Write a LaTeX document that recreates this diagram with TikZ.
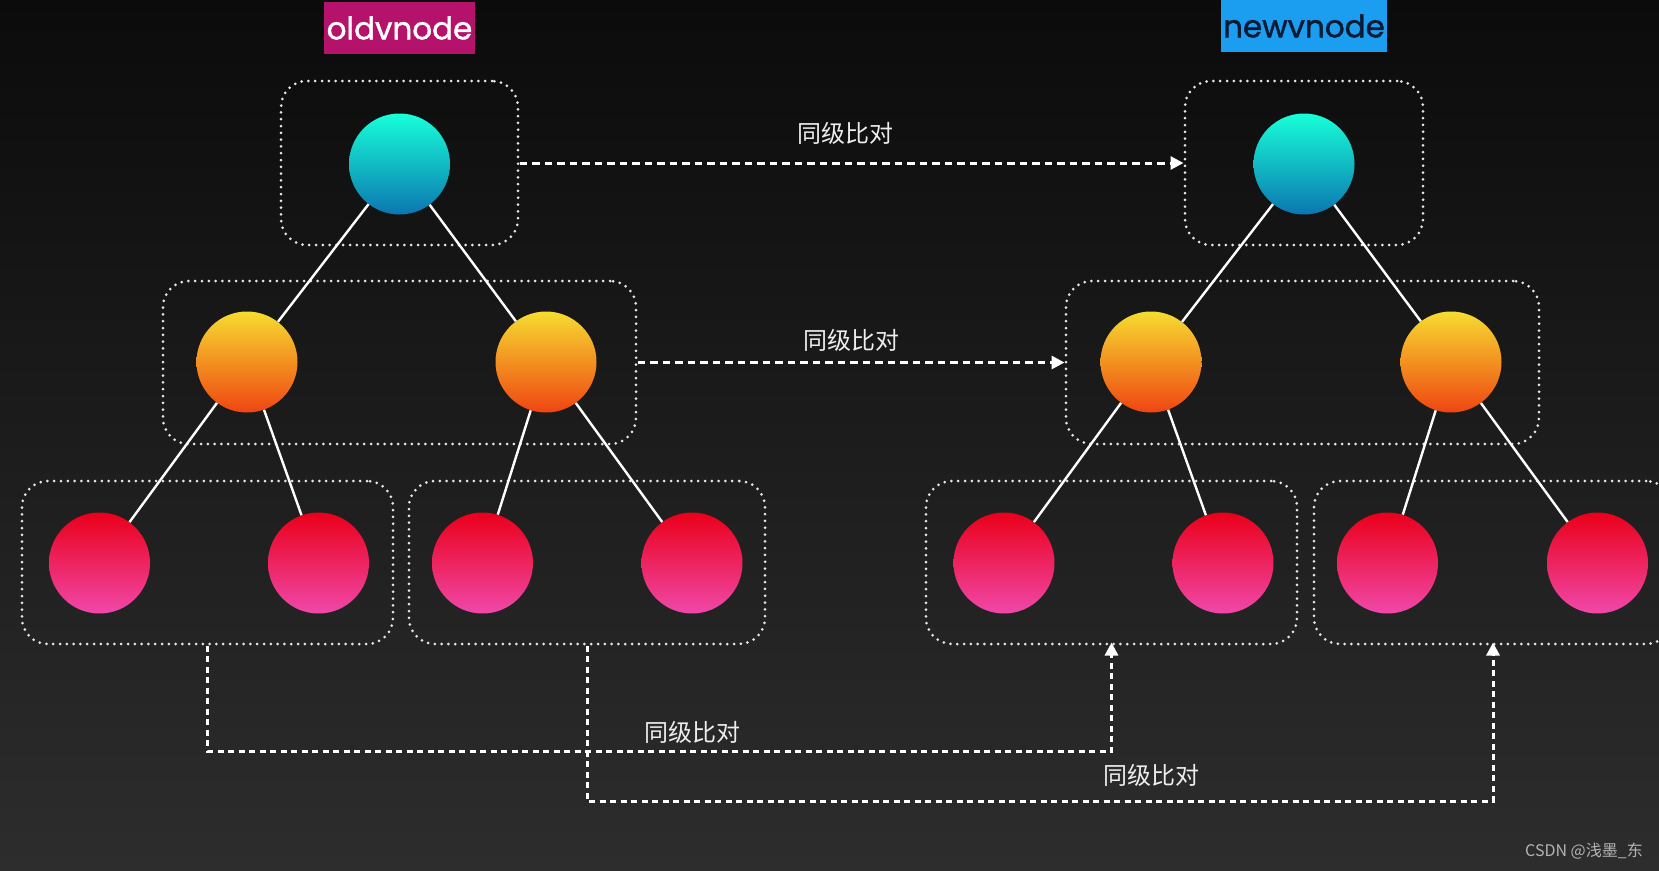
\documentclass[tikz,border=0pt]{standalone}
\usepackage{fontspec}
\setmainfont{Poppins}
\newfontfamily\tagfont{Poppins}[FakeBold=1.3]
\newfontfamily\cjk{Noto Sans CJK SC}
\usetikzlibrary{arrows.meta}
\definecolor{bgT}{HTML}{0B0B0B}
\definecolor{bgB}{HTML}{2D2D2D}
\definecolor{cyT}{HTML}{18FFD8}
\definecolor{cyM}{HTML}{14C0C8}
\definecolor{cyB}{HTML}{0B76B0}
\definecolor{orT}{HTML}{F6DC30}
\definecolor{orM}{HTML}{F3A024}
\definecolor{orB}{HTML}{EF4512}
\definecolor{rdT}{HTML}{EA0019}
\definecolor{rdM}{HTML}{EC1F60}
\definecolor{rdB}{HTML}{F048AA}
\definecolor{oldC}{HTML}{B5126B}
\definecolor{newC}{HTML}{1B9DF0}
\definecolor{newT}{HTML}{0B1A33}
\definecolor{wmC}{HTML}{B4B4B4}
\begin{document}
\begin{tikzpicture}[x=1pt,y=-1pt,
  ball/.style={circle, minimum size=101pt, inner sep=0pt, draw=none},
  cyanball/.style={ball, top color=cyT, middle color=cyM, bottom color=cyB},
  orball/.style={ball, top color=orT, middle color=orM, bottom color=orB},
  redball/.style={ball, top color=rdT, middle color=rdM, bottom color=rdB},
  grp/.style={draw=white!90!black, line width=3pt, dash pattern=on 0pt off 6.8pt, line cap=round, rounded corners=26pt, minimum height=163pt, inner sep=0pt},
  treeedge/.style={draw=white, line width=2.4pt},
  cmp/.style={draw=white, line width=3pt, dash pattern=on 7.5pt off 5pt, -{Triangle[length=13pt,width=13pt]}},
  cmpb/.style={draw=white, line width=3pt, dash pattern=on 6pt off 4.5pt, -{Triangle[length=13pt,width=13pt]}},
  lbl/.style={text=white!93!black, font=\cjk\fontsize{24}{28}\selectfont, inner sep=0pt},
  tag/.style={font=\tagfont\fontsize{31}{36}\selectfont, inner sep=0pt, minimum height=52pt}
]
\fill[top color=bgT, bottom color=bgB] (0,0) rectangle (1659,870);
\useasboundingbox (0,0) rectangle (1659,870);

% tags
\node[tag, fill=oldC, text=white, minimum width=151pt] (oldtag) at (399.5,28) {oldvnode};
\node[tag, fill=newC, text=newT, minimum width=166pt] (newtag) at (1304,26) {newvnode};

% group boxes
\node[grp, minimum width=237pt, minimum height=164pt] (gt1) at (399.5,163) {};
\node[grp, minimum width=238pt, minimum height=164pt] (gt2) at (1304,163) {};
\node[grp, minimum width=473pt] (gm1) at (399.5,362.5) {};
\node[grp, minimum width=473pt] (gm2) at (1302.5,362.5) {};
\node[grp, minimum width=371pt] (gb1) at (207.5,562.5) {};
\node[grp, minimum width=356pt] (gb2) at (587,562.5) {};
\node[grp, minimum width=371pt] (gb3) at (1111.5,562.5) {};
\node[grp, minimum width=358pt] (gb4) at (1493,562.5) {};

% balls old
\node[cyanball] (ot) at (399.5,164) {};
\node[orball] (om1) at (247,362) {};
\node[orball] (om2) at (546,362) {};
\node[redball] (ob1) at (99.5,563) {};
\node[redball] (ob2) at (318.5,563) {};
\node[redball] (ob3) at (482.5,563) {};
\node[redball] (ob4) at (692,563) {};
% balls new
\node[cyanball] (nt) at (1304,164) {};
\node[orball] (nm1) at (1151,362) {};
\node[orball] (nm2) at (1451,362) {};
\node[redball] (nb1) at (1004,563) {};
\node[redball] (nb2) at (1223,563) {};
\node[redball] (nb3) at (1387.5,563) {};
\node[redball] (nb4) at (1597.5,563) {};

% tree edges
\draw[treeedge] (ot) -- (om1);
\draw[treeedge] (ot) -- (om2);
\draw[treeedge] (om1) -- (ob1);
\draw[treeedge] (om1) -- (ob2);
\draw[treeedge] (om2) -- (ob3);
\draw[treeedge] (om2) -- (ob4);
\draw[treeedge] (nt) -- (nm1);
\draw[treeedge] (nt) -- (nm2);
\draw[treeedge] (nm1) -- (nb1);
\draw[treeedge] (nm1) -- (nb2);
\draw[treeedge] (nm2) -- (nb3);
\draw[treeedge] (nm2) -- (nb4);

% comparison arrows
\draw[cmp] (gt1.east) -- (gt2.west);
\draw[cmp] (gm1.east) -- (gm2.west);
\draw[cmpb] (gb1.south) -- (gb1.south |- 0,751) -| ([yshift=3pt]gb3.south);
\draw[cmpb] (gb2.south) -- (gb2.south |- 0,801) -| ([yshift=3pt]gb4.south);

% labels
\node[lbl] (l1) at (845.5,133) {同级比对};
\node[lbl] (l2) at (851.5,340) {同级比对};
\node[lbl] (l3) at (692,732) {同级比对};
\node[lbl] (l4) at (1151,775) {同级比对};

% watermark
\node[font=\cjk\fontsize{16}{19}\selectfont, text=wmC, inner sep=0pt] (wm) at (1584,851) {CSDN @浅墨\_东};
\end{tikzpicture}
\end{document}
